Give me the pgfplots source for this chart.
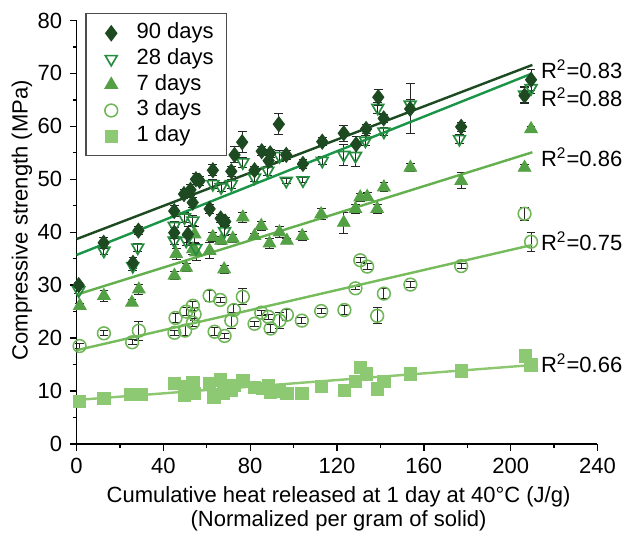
\documentclass[border=0pt]{standalone}
\usepackage{pgfplots}
\pgfplotsset{compat=1.18}
\usepackage{pgfplotstable}
\usepackage{fontspec}
\setmainfont{Liberation Sans}
\definecolor{c90}{RGB}{30,74,34}
\definecolor{c28}{RGB}{38,140,62}
\definecolor{c7}{RGB}{84,160,68}
\definecolor{c3}{RGB}{110,182,88}
\definecolor{c1}{RGB}{141,200,115}
\definecolor{l90}{RGB}{30,74,34}
\definecolor{l28}{RGB}{26,148,70}
\definecolor{l7}{RGB}{100,176,78}
\definecolor{l3}{RGB}{118,188,92}
\definecolor{l1}{RGB}{141,200,112}

\pgfplotstableread{
x y e
1 30 0.5
12.5 38 1
26 34.2 1
28.5 40.3 0.8
45 44 1
45 39.9 1
49.5 47.2 0.8
52.5 48 1
55 50 1
53.5 45.6 1
51.3 39.6 1.5
56.7 49.7 0.8
61.3 44.4 0.8
62.8 51.7 1
66.4 42.6 0.8
68.5 42 0.8
71.3 51.5 1
72.8 54.6 1.5
76.3 57 2
82 51.7 0.8
85.3 55.3 0.8
88.5 53.5 1
89.2 54.9 0.8
93.2 60.4 2
96.6 54.6 0.8
104.3 52.9 0.8
113.2 57.1 0.8
123.1 58.7 1.5
128.8 56.6 1.5
133.4 59.5 0.8
139 65.5 1.5
141.5 61.5 0.8
153.7 63.3 4.7
177.2 59.9 0.8
206.4 65.8 1.5
209.4 68.8 2
}\dninety

\pgfplotstableread{
x y e
1 29 0.5
12.6 36.5 0.8
25.9 33.6 0.8
28.2 37.1 0.8
45 41.2 0.8
45 38.4 0.8
49.7 42.8 1
50.5 38.4 1
53.6 42.2 1
55 37 0.8
62.8 49.1 0.8
66.6 48.5 0.8
68.2 40.2 0.8
71.3 49.1 0.8
76.6 53.2 1
82 50.3 0.8
88.1 51.6 0.8
93.5 54.4 1
96.6 49.7 0.5
104.3 49.8 0.5
113.2 53.5 0.8
123.1 54.6 2
128.5 54.4 2
133.1 57.3 1
138.8 63.5 1
141.6 59 0.8
153.7 64.1 1
176.4 57.6 0.8
206.4 66 1.5
209.4 67.2 1
}\dtwentyeight

\pgfplotstableread{
x y e
1.5 26.1 0.5
12.6 28 1
25.5 26.7 0.5
28.7 29.2 1
45.1 31.8 0.8
45.9 35.9 1
50.5 33.3 0.8
53.6 36.8 1
54.4 39.6 1.5
55.1 36.2 1.5
61.3 36.5 1.5
62.8 39.1 0.8
66.6 38.4 0.8
68 33 0.8
72 38.8 0.8
76.6 42.8 1
82 39.3 0.5
85.1 41.2 0.8
88.9 37.9 1
93.5 40 1
96.9 38.4 0.5
104 39.3 0.8
112.7 43.4 1
123.1 41.8 2
128.5 44.4 0.8
130.7 46.6 0.8
133.9 46.7 0.8
138.5 44.4 0.8
141.6 48.5 0.8
153.8 52.2 0.8
177.2 49.7 1.5
206.4 52.2 0.5
209.4 59.5 0.5
}\dseven

\pgfplotstableread{
x y e
1.4 18.5 0.5
12.6 20.9 0.5
25.6 19.2 0.5
28.7 21.4 1.8
45.1 21.0 0.5
45.6 23.8 0.8
50 21.4 1
50.5 25.0 0.8
53.6 26.1 0.8
54.4 24.5 1.2
53.6 22.9 0.8
61.3 28.0 1
66.2 27.2 0.5
63.6 21.2 0.8
68.2 20.4 0.5
71.3 23.3 1.5
72.5 25.3 1
76.6 27.8 1.5
82 22.7 0.5
85.1 24.8 0.5
88.4 24.0 0.5
89.4 21.8 0.8
93.5 23.3 1.5
96.9 24.4 1
103.8 23.3 0.5
112.7 25.1 0.5
123.4 25.3 0.8
128.5 29.4 0.3
130.7 34.7 0.5
133.9 33.5 0.5
138.5 24.2 1.5
141.6 28.4 1
153.8 30.1 0.5
177.2 33.6 0.5
206.4 43.5 1.2
209.4 38.2 1.8
}\dthree

\pgfplotstableread{
x y e
1.4 8.0 0.3
12.6 8.6 0.3
25 9.4 0.2
27.5 9.4 0.2
30 9.4 0.2
45.1 11.4 0.8
49.7 9.1 0.5
50.5 10.8 0.5
53.6 11.6 0.8
54.4 9.6 0.5
61.3 11.4 0.8
63.3 8.9 0.8
66.2 12.1 0.5
67.7 9.6 1
71.3 10.2 0.5
72.5 11.1 0.3
76.6 11.9 0.8
82 10.7 0.3
85.8 10.5 0.3
88.4 11.1 0.3
89.4 9.7 0.5
93.5 9.9 0.8
96.9 9.6 0.3
103.8 9.5 0.2
112.7 10.9 0.5
123.4 10.1 0.3
128.5 11.8 0
130.7 14.5 0.5
133.4 13.2 0.5
138.5 10.4 0.8
141.6 11.8 0.8
153.8 13.2 0.5
177.2 13.8 0.5
206.8 16.6 0.8
209.4 14.9 0.5
}\done

\begin{document}
\begin{tikzpicture}
\useasboundingbox (-34.8pt,-44.1pt) rectangle (248.4pt,201.8pt);
\begin{axis}[
  at={(0,0)}, anchor=south west,
  scale only axis, width=236.8pt, height=192.5pt,
  xmin=0, xmax=240, ymin=0, ymax=80,
  clip=false,
  axis lines=left,
  axis line style={-, line width=0.6pt, black},
  xtick={0,40,...,240}, ytick={0,10,...,80},
  minor x tick num=1, minor y tick num=1,
  tick align=outside,
  major tick length=3pt, minor tick length=1.8pt,
  tick style={black, line width=0.6pt},
  font=\fontsize{10}{12}\selectfont,
  /pgf/number format/assume math mode=true,
  ticklabel style={font=\fontsize{10}{12}\selectfont},
  xlabel={Cumulative heat released at 1 day at 40°C (J/g)\\(Normalized per gram of solid)},
  xlabel style={at={(axis description cs:0.503,-0.153)}, anchor=center, align=center, font=\fontsize{10}{11}\selectfont},
  ylabel={Compressive strength (MPa)},
  ylabel style={at={(axis description cs:-0.105,0.528)}, anchor=center, font=\fontsize{10}{12}\selectfont},
  legend style={at={(0.017,1.017)}, anchor=north west, draw=black!70, line width=0.5pt,
    font=\fontsize{10}{12}\selectfont,
    nodes={inner sep=1pt, text height=7.3pt, text depth=2.4pt},
    inner xsep=5pt, inner ysep=3pt},
  legend image code/.code={%
    \path[draw=none, fill=none] (0pt,0pt) -- (17pt,0pt);
    \draw[#1] plot[only marks] coordinates {(6.5pt,0pt)};},
  legend cell align=left,
  reverse legend,
  error bars/error bar style={black!85, line width=0.45pt},
  error bars/error mark options={rotate=90, black!85, mark size=2pt, line width=0.45pt},
  eb/.style={mark=none, draw=none, forget plot,
    error bars/.cd, y dir=both, y explicit},
]
\addplot[only marks, mark=square*, mark size=2.8pt, color=c1, fill=c1] table[x=x, y=y] \done;
\addlegendentry{1 day}
\addplot[only marks, mark=o, mark size=2.9pt, color=c3, mark options={line width=0.7pt}] table[x=x, y=y] \dthree;
\addlegendentry{3 days}
\addplot[only marks, mark=triangle*, mark size=3.3pt, color=c7, fill=c7] table[x=x, y=y] \dseven;
\addlegendentry{7 days}
\addplot[only marks, mark=triangle, mark size=3.1pt, color=c28, mark options={rotate=180, line width=0.75pt, fill=white}] table[x=x, y=y] \dtwentyeight;
\addlegendentry{28 days}
\addplot[only marks, mark=diamond*, mark size=3.4pt, color=c90, fill=c90] table[x=x, y=y] \dninety;
\addlegendentry{90 days}

\addplot[eb] table[x=x, y=y, y error=e] \done;
\addplot[eb] table[x=x, y=y, y error=e] \dthree;
\addplot[eb] table[x=x, y=y, y error=e] \dseven;
\addplot[eb] table[x=x, y=y, y error=e] \dtwentyeight;
\addplot[eb] table[x=x, y=y, y error=e] \dninety;

\addplot[l1, line width=1.1pt, forget plot] coordinates {(0,8.3) (210,14.9)};
\addplot[l3, line width=1.1pt, forget plot] coordinates {(0,17.7) (210,37.6)};
\addplot[l7, line width=1.1pt, forget plot] coordinates {(0,28.2) (210,55.1)};
\addplot[l28, line width=1.1pt, forget plot] coordinates {(0,35.7) (210,70.0)};
\addplot[l90, line width=1.1pt, forget plot] coordinates {(0,38.7) (210,71.6)};

\node[anchor=west, inner sep=0pt] at (axis cs:213.8,70.7) {R\textsuperscript{2}=0.83};
\node[anchor=west, inner sep=0pt] at (axis cs:213.8,65.5) {R\textsuperscript{2}=0.88};
\node[anchor=west, inner sep=0pt] at (axis cs:213.8,54.2) {R\textsuperscript{2}=0.86};
\node[anchor=west, inner sep=0pt] at (axis cs:213.8,38.3) {R\textsuperscript{2}=0.75};
\node[anchor=west, inner sep=0pt] at (axis cs:213.8,15.3) {R\textsuperscript{2}=0.66};
\end{axis}
\end{tikzpicture}
\end{document}
